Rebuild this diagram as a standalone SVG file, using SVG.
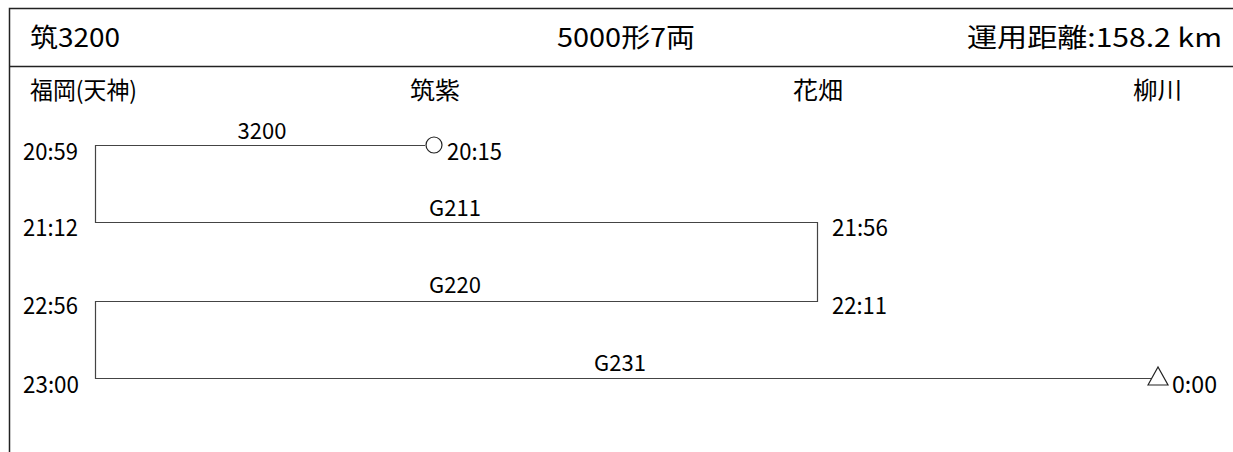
<svg xmlns="http://www.w3.org/2000/svg" width="1233" height="452" viewBox="0 0 1233 452">
<style>
text{font-family:"Noto Sans CJK JP","Noto Sans",sans-serif;fill:#000}
.title{font-size:26px}
.st{font-size:24px}
.tm{font-size:23px}
.lb{font-size:22px;text-anchor:middle}
.frame{stroke:#222;stroke-width:1.5;fill:none}
.conn{stroke:#444;stroke-width:1.2;fill:none}
.mark{stroke:#222;stroke-width:1.2;fill:#fff}
</style>
<rect width="1233" height="452" fill="#fff"/>
<g id="frame">
<path class="frame" d="M9.5,452 V8.5 H1233"/>
<path class="frame" d="M9.5,66.5 H1233"/>
<text class="title" x="30" y="47" textLength="90" lengthAdjust="spacingAndGlyphs">筑3200</text>
<text class="title" x="557" y="47" textLength="138" lengthAdjust="spacingAndGlyphs">5000形7両</text>
<text class="title" x="967" y="47" textLength="255" lengthAdjust="spacingAndGlyphs">運用距離:158.2 km</text>
</g>
<g id="stations">
<text class="st" x="30" y="99" textLength="107" lengthAdjust="spacingAndGlyphs">福岡(天神)</text>
<text class="st" x="410" y="99" textLength="50" lengthAdjust="spacingAndGlyphs">筑紫</text>
<text class="st" x="793" y="99" textLength="50" lengthAdjust="spacingAndGlyphs">花畑</text>
<text class="st" x="1133" y="99" textLength="49" lengthAdjust="spacingAndGlyphs">柳川</text>
</g>
<g id="connectors">
<path class="conn" d="M425,145.5 H95.5 V222.5 H817.5 V301.5 H95.5 V378.5 H1151"/>
</g>
<g id="train-3200">
<circle class="mark" cx="434" cy="145" r="8"/>
<text class="lb" x="262" y="139">3200</text>
<text class="tm" x="23" y="160" textLength="55" lengthAdjust="spacingAndGlyphs">20:59</text>
<text class="tm" x="447" y="160" textLength="55" lengthAdjust="spacingAndGlyphs">20:15</text>
</g>
<g id="train-G211">
<text class="lb" x="455" y="216">G211</text>
<text class="tm" x="23" y="236" textLength="55" lengthAdjust="spacingAndGlyphs">21:12</text>
<text class="tm" x="832" y="236" textLength="56" lengthAdjust="spacingAndGlyphs">21:56</text>
</g>
<g id="train-G220">
<text class="lb" x="455" y="293">G220</text>
<text class="tm" x="23" y="314" textLength="55" lengthAdjust="spacingAndGlyphs">22:56</text>
<text class="tm" x="832" y="314" textLength="55" lengthAdjust="spacingAndGlyphs">22:11</text>
</g>
<g id="train-G231">
<text class="lb" x="620" y="371">G231</text>
<text class="tm" x="23" y="393" textLength="56" lengthAdjust="spacingAndGlyphs">23:00</text>
<polygon class="mark" points="1148,385 1158,367 1168,385"/>
<text class="tm" x="1172" y="393" textLength="45" lengthAdjust="spacingAndGlyphs">0:00</text>
</g>
</svg>
